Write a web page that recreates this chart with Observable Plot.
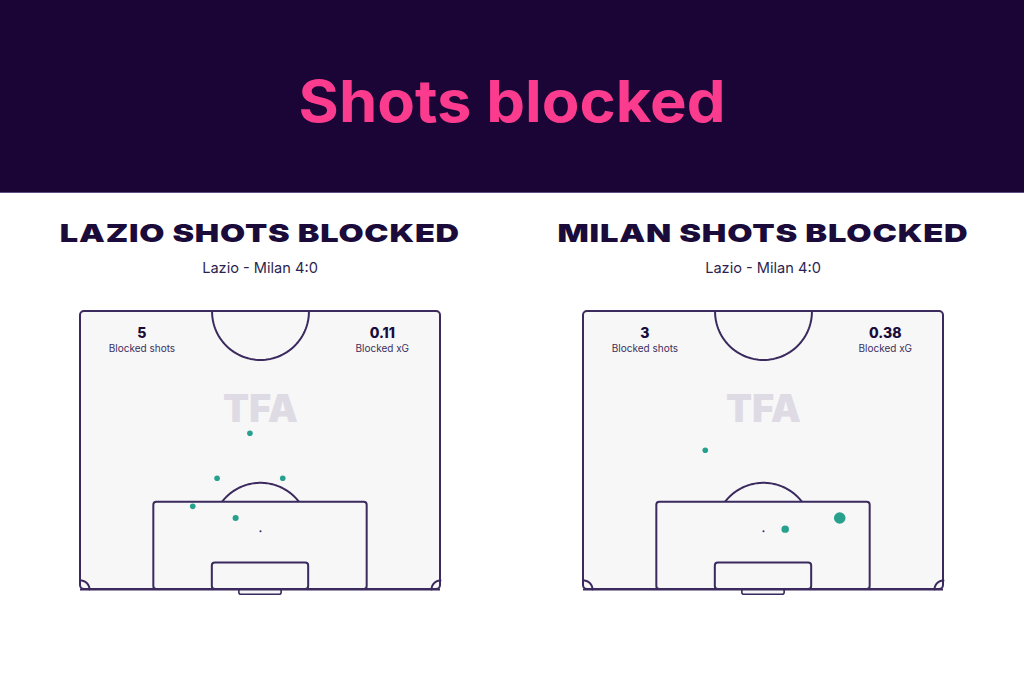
<!DOCTYPE html>
<html>
<head>
<meta charset="utf-8">
<script src="https://cdn.jsdelivr.net/npm/d3@7"></script>
<script src="https://cdn.jsdelivr.net/npm/@observablehq/plot@0.6"></script>
<style>
html, body { margin: 0; padding: 0; background: #ffffff; }
body { width: 1024px; height: 683px; position: relative; overflow: hidden; font-family: Inter, "Noto Sans", sans-serif; }
#header { position: absolute; left: 0; top: 0; width: 1024px; height: 192px; background: #1a0536; border-bottom: 1px solid #5e4f82; }
#title { position: absolute; left: 0; top: 71.6px; width: 1024px; text-align: center; white-space: nowrap; }
#title span { display: inline-block; font: 700 58px/1 Inter, sans-serif; color: #fb3c8e; transform-origin: 50% 50%; }
.panel { position: absolute; top: 0; width: 504px; height: 683px; }
.ptitle { position: absolute; left: 0; top: 220.8px; width: 504px; text-align: center; white-space: nowrap; }
.ptitle span { display: inline-block; font: 900 25px/1 Inter, sans-serif; color: #1a0b3a; letter-spacing: 0.6px; transform-origin: 50% 50%; }
.psub { position: absolute; left: 0; top: 260.8px; width: 504px; text-align: center; font: 400 14.6px/1 Inter, sans-serif; color: #2d1f4f; white-space: nowrap; }
</style>
</head>
<body>
<div id="header"><div id="title"><span>Shots blocked</span></div></div>
<div class="panel" id="p0" style="left:8px"></div>
<div class="panel" id="p1" style="left:511px"></div>
<script>
// ---- data ----
const panelTitles = ["LAZIO SHOTS BLOCKED", "MILAN SHOTS BLOCKED"];
const matchLabel = "Lazio - Milan 4:0";
const statLabels = ["Blocked shots", "Blocked xG"];
const lazioStats = ["5", "0.11"];
const milanStats = ["3", "0.38"];
// shot locations in metres: x across pitch width (0-68), y distance from goal line
const lazioX = [32.0, 25.8, 38.2, 21.2, 29.3];
const lazioY = [29.5, 21.0, 21.0, 15.7, 13.5];
const lazioXG = [0.02, 0.02, 0.02, 0.02, 0.03];
const milanX = [23.0, 38.1, 48.4];
const milanY = [26.3, 11.4, 13.5];
const milanXG = [0.02, 0.07, 0.29];

// ---- styling ----
const LINE = "#3b2a5e";
const TEAL = "#27a08e";
const PITCH_BG = "#f7f7f8";

function fitWidth(span, target) {
  const w = span.getBoundingClientRect().width;
  if (w > 0) span.style.transform = `scaleX(${target / w})`;
}

function arc(cx, cy, r, a0, a1) {
  return d3.range(0, 61).map(i => {
    const a = (a0 + (a1 - a0) * i / 60) * Math.PI / 180;
    return {x: cx + r * Math.cos(a), y: cy + r * Math.sin(a)};
  });
}

function pitch(xs, ys, xgs, stats) {
  const shots = xs.map((x, i) => ({x, y: ys[i], xg: xgs[i]}));
  const statRows = stats.map((v, i) => ({value: v, label: statLabels[i], side: i}));
  const boxes = [
    {x1: 13.85, x2: 54.15, y1: 0, y2: 16.5},
    {x1: 24.9, x2: 43.1, y1: 0, y2: 5}
  ];
  const goal = [{x1: 30, x2: 38, y1: -1, y2: 0}];
  const aPen = Math.asin(5.5 / 9.15) * 180 / Math.PI;
  const arcs = [
    arc(34, 52.5, 9.15, 180, 360),
    arc(34, 11, 9.15, aPen, 180 - aPen),
    arc(0, 0, 1.7, 0, 90),
    arc(68, 0, 1.7, 90, 180)
  ];
  return Plot.plot({
    width: 504,
    height: 301,
    marginLeft: 72,
    marginRight: 72,
    marginTop: 11,
    marginBottom: 12,
    x: {domain: [0, 68], axis: null},
    y: {domain: [0, 52.5], axis: null},
    r: {type: "sqrt", domain: [0.02, 0.29], range: [2.8, 5.8]},
    style: {background: "transparent", overflow: "visible"},
    marks: [
      Plot.rect([{x1: 0, x2: 68, y1: 0, y2: 52.5}], {x1: "x1", x2: "x2", y1: "y1", y2: "y2", fill: PITCH_BG, stroke: LINE, strokeWidth: 2, rx: 4, inset: 0}),
      Plot.text(["TFA"], {x: 34, y: 31.6, text: d => d, fill: "#dedbe5", fontSize: 38, fontWeight: 900, fontFamily: "Inter", lineAnchor: "bottom"}),
      ...arcs.map(a => Plot.line(a, {x: "x", y: "y", stroke: LINE, strokeWidth: 2, curve: "linear"})),
      Plot.rect(boxes, {x1: "x1", x2: "x2", y1: "y1", y2: "y2", fill: PITCH_BG, stroke: LINE, strokeWidth: 2, rx: 3, inset: 0}),
      Plot.rect(goal, {x1: "x1", x2: "x2", y1: "y1", y2: "y2", fill: PITCH_BG, stroke: LINE, strokeWidth: 1.6, rx: 2, inset: 0}),
      Plot.ruleY([0], {x1: 0, x2: 68, stroke: LINE, strokeWidth: 2}),
      Plot.dot([{x: 34, y: 11}], {x: "x", y: "y", r: 1, fill: LINE, stroke: null}),
      Plot.dot(shots, {x: "x", y: "y", r: "xg", fill: TEAL, stroke: null}),
      Plot.text(statRows, {x: d => d.side === 0 ? 11.6 : 57, y: 47.5, text: "value", fill: "#1a0b3a", fontSize: 14, fontWeight: 800, fontFamily: "Inter", lineAnchor: "bottom"}),
      Plot.text(statRows, {x: d => d.side === 0 ? 11.6 : 57, y: 44.8, text: "label", fill: "#3d2f5c", fontSize: 10, fontWeight: 400, fontFamily: "Inter", lineAnchor: "bottom"})
    ]
  });
}

const sets = [[lazioX, lazioY, lazioXG, lazioStats], [milanX, milanY, milanXG, milanStats]];
sets.forEach((s, i) => {
  const panel = document.getElementById("p" + i);
  const t = document.createElement("div");
  t.className = "ptitle";
  const ts = document.createElement("span");
  ts.textContent = panelTitles[i];
  t.appendChild(ts);
  panel.appendChild(t);
  const sub = document.createElement("div");
  sub.className = "psub";
  sub.textContent = matchLabel;
  panel.appendChild(sub);
  const chart = pitch(...s);
  chart.style.position = "absolute";
  chart.style.left = "0px";
  chart.style.top = "300px";
  panel.appendChild(chart);
  fitWidth(ts, i === 0 ? 400 : 411);
});
fitWidth(document.querySelector("#title span"), 427);
</script>
</body>
</html>
